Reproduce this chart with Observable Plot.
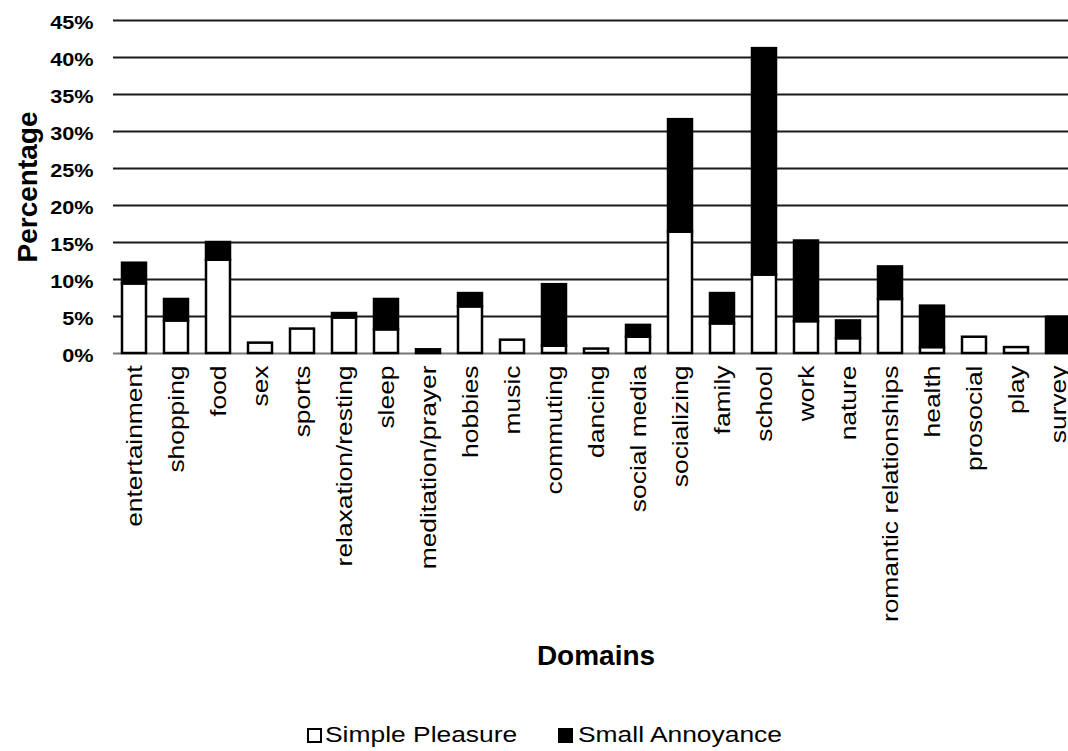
<!DOCTYPE html>
<html>
<head>
<meta charset="utf-8">
<script src="https://cdn.jsdelivr.net/npm/d3@7"></script>
<script src="https://cdn.jsdelivr.net/npm/@observablehq/plot@0.6"></script>
<style>
  html, body { margin: 0; padding: 0; background: white; overflow: hidden; }
  body { width: 1068px; height: 751px; font-family: "Liberation Sans", Arial, sans-serif; }
  #legend { position: relative; height: 61px; width: 1068px; }
  #legend .sq { position: absolute; width: 11px; height: 11px; border: 2px solid black; }
  #legend .lbl { position: absolute; font-size: 22px; line-height: 22px; color: black; white-space: nowrap; transform: scaleX(1.2); transform-origin: left center; }
</style>
</head>
<body>
<div id="chart"></div>
<div id="legend">
  <div class="sq" style="left:307px; top:38px; background:white;"></div>
  <div class="lbl" style="left:325px; top:34px;">Simple Pleasure</div>
  <div class="sq" style="left:558px; top:38px; background:black;"></div>
  <div class="lbl" style="left:578px; top:34px;">Small Annoyance</div>
</div>
<script>
const categories = ["entertainment","shopping","food","sex","sports","relaxation/resting","sleep","meditation/prayer","hobbies","music","commuting","dancing","social media","socializing","family","school","work","nature","romantic relationships","health","prosocial","play","survey"];
const simplePleasure = [9.4, 4.4, 12.6, 1.4, 3.3, 4.8, 3.2, 0, 6.3, 1.8, 1.0, 0.6, 2.2, 16.4, 4.0, 10.6, 4.3, 2.0, 7.3, 0.8, 2.2, 0.8, 0];
const smallAnnoyance = [2.8, 2.9, 2.4, 0, 0, 0.6, 4.1, 0.5, 1.8, 0, 8.3, 0, 1.6, 15.2, 4.1, 30.6, 10.9, 2.4, 4.4, 5.6, 0, 0, 4.9];
const seriesNames = ["Simple Pleasure", "Small Annoyance"];
const yTicks = [0, 5, 10, 15, 20, 25, 30, 35, 40, 45];

const data = [];
categories.forEach((c, i) => { if (simplePleasure[i] > 0) data.push({domain: c, series: seriesNames[0], value: simplePleasure[i]}); });
categories.forEach((c, i) => { if (smallAnnoyance[i] > 0) data.push({domain: c, series: seriesNames[1], value: smallAnnoyance[i]}); });

const chart = Plot.plot({
  width: 1068,
  height: 690,
  marginLeft: 113,
  marginRight: 0,
  marginTop: 20,
  marginBottom: 337,
  style: {fontFamily: "'Liberation Sans', Arial, sans-serif", color: "black", background: "white", overflow: "visible"},
  x: {domain: categories, range: [113, 1079], paddingInner: 0.42, paddingOuter: 0.21, label: null},
  y: {domain: [0, 45], label: null},
  color: {domain: seriesNames, range: ["white", "black"]},
  marks: [
    Plot.ruleY(yTicks.filter(d => d > 0), {stroke: "#1a1a1a", strokeWidth: 2}),
    Plot.ruleY([0], {stroke: "#777", strokeWidth: 2}),
    Plot.barY(data, {x: "domain", y: "value", z: "series", fill: "series", stroke: "black", strokeWidth: 2.5}),
    Plot.axisX({tickSize: 0, tickPadding: 12, tickRotate: -90, fontSize: 22, label: null}),
    Plot.axisY({ticks: yTicks, tickFormat: d => d + "%", tickSize: 0, tickPadding: 20, fontSize: 19, fontWeight: "bold", dy: 2, label: null}),
    Plot.text(["Percentage"], {frameAnchor: "left", textAnchor: "middle", lineAnchor: "middle", dx: -85, rotate: -90, fontSize: 28, fontWeight: "bold"}),
    Plot.text(["Domains"], {frameAnchor: "bottom", textAnchor: "middle", lineAnchor: "middle", dx: 5, dy: 303, fontSize: 28, fontWeight: "bold"})
  ]
});

document.getElementById("chart").appendChild(chart);
const svg = d3.select(chart);
svg.selectAll('g[aria-label="x-axis tick label"] text').attr("transform", function() { return (this.getAttribute("transform") || "") + " scale(1.2,1)"; });
svg.selectAll('g[aria-label="y-axis tick label"] text').attr("font-weight", "bold").attr("transform", function() { return (this.getAttribute("transform") || "") + " scale(1.14,1)"; });
</script>
</body>
</html>
